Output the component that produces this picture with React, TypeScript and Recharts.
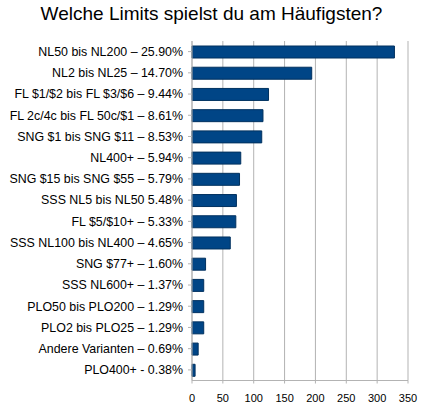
import React from "react";
import { BarChart, Bar, XAxis, YAxis, CartesianGrid } from "recharts";

const categories = [
  "NL50 bis NL200 – 25.90%",
  "NL2 bis NL25 – 14.70%",
  "FL $1/$2 bis FL $3/$6 – 9.44%",
  "FL 2c/4c bis FL 50c/$1 – 8.61%",
  "SNG $1 bis SNG $11 – 8.53%",
  "NL400+ – 5.94%",
  "SNG $15 bis SNG $55 – 5.79%",
  "SSS NL5 bis NL50 5.48%",
  "FL $5/$10+ – 5.33%",
  "SSS NL100 bis NL400 – 4.65%",
  "SNG $77+ – 1.60%",
  "SSS NL600+ – 1.37%",
  "PLO50 bis PLO200 – 1.29%",
  "PLO2 bis PLO25 – 1.29%",
  "Andere Varianten – 0.69%",
  "PLO400+ - 0.38%",
];

const values = [328, 194, 124, 115, 113, 79, 77, 72, 71, 62, 22, 19, 19, 19, 10, 5];

const xTicks = [0, 50, 100, 150, 200, 250, 300, 350];

const data = categories.map((name, i) => ({ name, value: values[i] }));

const FONT = "'Liberation Sans', Arial, sans-serif";

const CategoryTick = (props: any) => {
  const { x, y, payload } = props;
  return (
    <text x={x} y={y} dy="0.35em" textAnchor="end" fill="#000" fontSize={12.4} fontFamily={FONT}>
      {payload.value}
    </text>
  );
};

export default function App() {
  return (
    <div style={{ position: "absolute", left: 0, top: 0, width: 423, height: 410, background: "#fff" }}>
      <div
        style={{
          position: "absolute",
          left: 0,
          top: 3,
          width: 423,
          textAlign: "center",
          fontFamily: FONT,
          fontSize: 19,
          color: "#000",
        }}
      >
        Welche Limits spielst du am Häufigsten?
      </div>
      <BarChart
        width={423}
        height={410}
        data={data}
        layout="vertical"
        margin={{ top: 41, right: 15, bottom: 0, left: 0 }}
      >
        <CartesianGrid horizontal={false} vertical={true} stroke="#b3b3b3" />
        <XAxis
          type="number"
          domain={[0, 350]}
          ticks={xTicks}
          interval={0}
          height={29.5}
          tickSize={3}
          tickMargin={11}
          axisLine={{ stroke: "#b3b3b3" }}
          tickLine={{ stroke: "#b3b3b3" }}
          tick={{ fill: "#000", fontSize: 11, fontFamily: FONT }}
        />
        <XAxis
          xAxisId="top"
          orientation="top"
          type="number"
          domain={[0, 350]}
          height={0}
          tick={false}
          tickLine={false}
          axisLine={{ stroke: "#b3b3b3" }}
        />
        <YAxis
          type="category"
          dataKey="name"
          width={192}
          interval={0}
          tickSize={4}
          tickMargin={5}
          axisLine={{ stroke: "#b3b3b3" }}
          tickLine={{ stroke: "#b3b3b3" }}
          tick={<CategoryTick />}
        />
        <Bar dataKey="value" barSize={12} fill="#004586" stroke="#00315f" strokeWidth={1} isAnimationActive={false} />
      </BarChart>
    </div>
  );
}
